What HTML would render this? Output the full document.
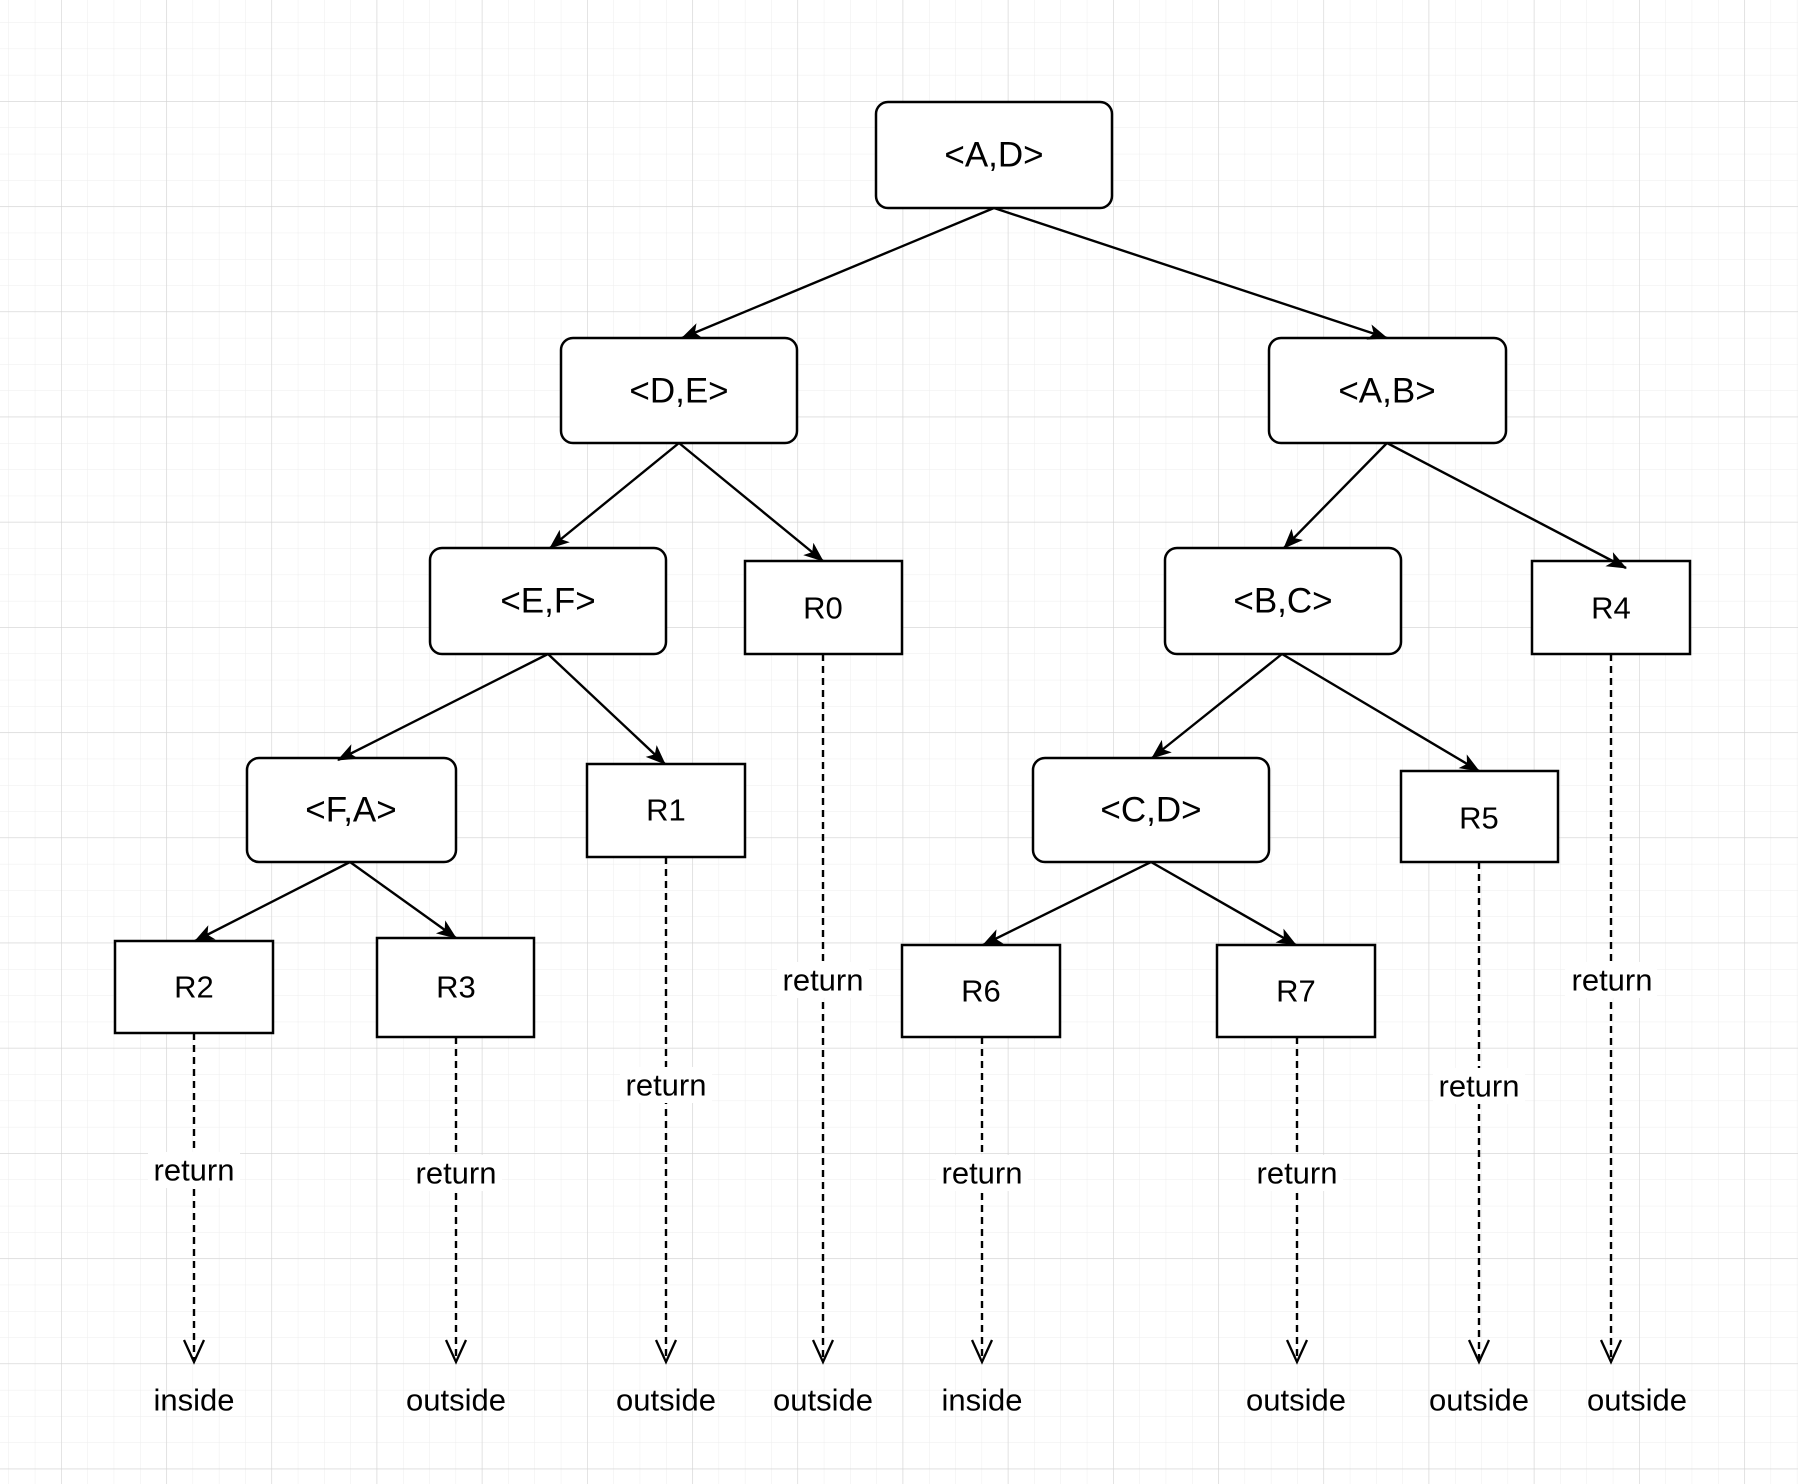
<!DOCTYPE html>
<html><head><meta charset="utf-8"><style>
html,body{margin:0;padding:0;background:#fff;}
svg{display:block;}
text{font-family:"Liberation Sans",Arial,sans-serif;fill:#000;}
</style></head><body>
<svg width="1798" height="1484" viewBox="0 0 1798 1484" xmlns="http://www.w3.org/2000/svg">
<defs>
<pattern id="minor" x="8.5" y="-4" width="26.3" height="26.3" patternUnits="userSpaceOnUse">
<path d="M0 0V26.3M0 0H26.3" stroke="#ededed" stroke-width="1" fill="none"/>
</pattern>
<pattern id="major" x="61" y="101" width="105.2" height="105.2" patternUnits="userSpaceOnUse">
<path d="M0 0V105.2M0 0H105.2" stroke="#d4d4d4" stroke-width="1.2" fill="none"/>
</pattern>
<marker id="fa" markerWidth="22" markerHeight="20" refX="19" refY="10" orient="auto" markerUnits="userSpaceOnUse">
<path d="M0 2 L20 10 L0 18 L5 10 Z" fill="#000"/>
</marker>
<marker id="oa" markerWidth="26" markerHeight="26" refX="22" refY="13" orient="auto" markerUnits="userSpaceOnUse">
<path d="M1 3 L23 13 L1 23" fill="none" stroke="#000" stroke-width="2.3"/>
</marker>
</defs>
<rect width="1798" height="1484" fill="#fff"/>
<rect width="1798" height="1484" fill="url(#minor)"/>
<rect width="1798" height="1484" fill="url(#major)"/>

<g fill="#fff" stroke="#000" stroke-width="2.5">
<rect x="876" y="102" width="236" height="106" rx="12"/>
<rect x="561" y="338" width="236" height="105" rx="12"/>
<rect x="1269" y="338" width="237" height="105" rx="12"/>
<rect x="430" y="548" width="236" height="106" rx="12"/>
<rect x="1165" y="548" width="236" height="106" rx="12"/>
<rect x="247" y="758" width="209" height="104" rx="12"/>
<rect x="1033" y="758" width="236" height="104" rx="12"/>
<rect x="745" y="561" width="157" height="93"/>
<rect x="1532" y="561" width="158" height="93"/>
<rect x="587" y="764" width="158" height="93"/>
<rect x="1401" y="771" width="157" height="91"/>
<rect x="115" y="941" width="158" height="92"/>
<rect x="377" y="938" width="157" height="99"/>
<rect x="902" y="945" width="158" height="92"/>
<rect x="1217" y="945" width="158" height="92"/>
</g>

<g stroke="#000" stroke-width="2.4" marker-end="url(#fa)">
<line x1="994" y1="208" x2="682" y2="338"/>
<line x1="994" y1="208" x2="1387" y2="338"/>
<line x1="679" y1="443" x2="550" y2="548"/>
<line x1="679" y1="443" x2="823" y2="561"/>
<line x1="1387" y1="443" x2="1284" y2="548"/>
<line x1="1387" y1="443" x2="1626" y2="568"/>
<line x1="548" y1="654" x2="338" y2="760"/>
<line x1="548" y1="654" x2="665" y2="764"/>
<line x1="1282" y1="654" x2="1152" y2="758"/>
<line x1="1282" y1="654" x2="1479" y2="771"/>
<line x1="350" y1="862" x2="195" y2="941"/>
<line x1="350" y1="862" x2="456" y2="938"/>
<line x1="1151" y1="862" x2="983" y2="945"/>
<line x1="1151" y1="862" x2="1296" y2="945"/>
</g>

<g stroke="#000" stroke-width="2.4" stroke-dasharray="7,5" marker-end="url(#oa)">
<line x1="194" y1="1033" x2="194" y2="1361"/>
<line x1="456" y1="1037" x2="456" y2="1361"/>
<line x1="666" y1="857" x2="666" y2="1361"/>
<line x1="823" y1="654" x2="823" y2="1361"/>
<line x1="982" y1="1037" x2="982" y2="1361"/>
<line x1="1297" y1="1037" x2="1297" y2="1361"/>
<line x1="1479" y1="862" x2="1479" y2="1361"/>
<line x1="1611" y1="654" x2="1611" y2="1361"/>
</g>

<g font-size="35" text-anchor="middle" dominant-baseline="central">
<text x="994" y="155">&lt;A,D&gt;</text>
<text x="679" y="391">&lt;D,E&gt;</text>
<text x="1387" y="391">&lt;A,B&gt;</text>
<text x="548" y="601">&lt;E,F&gt;</text>
<text x="1283" y="601">&lt;B,C&gt;</text>
<text x="351" y="810">&lt;F,A&gt;</text>
<text x="1151" y="810">&lt;C,D&gt;</text>
</g>
<g font-size="31" text-anchor="middle" dominant-baseline="central">
<text x="823" y="608">R0</text>
<text x="1611" y="608">R4</text>
<text x="666" y="810">R1</text>
<text x="1479" y="818">R5</text>
<text x="194" y="987">R2</text>
<text x="456" y="987">R3</text>
<text x="981" y="991">R6</text>
<text x="1296" y="991">R7</text>
</g>
<g font-size="31" text-anchor="middle" dominant-baseline="central">
<rect x="148" y="1152" width="92" height="36" fill="#fff"/>
<text x="194" y="1170">return</text>
<rect x="410" y="1155" width="92" height="36" fill="#fff"/>
<text x="456" y="1173">return</text>
<rect x="620" y="1067" width="92" height="36" fill="#fff"/>
<text x="666" y="1085">return</text>
<rect x="777" y="962" width="92" height="36" fill="#fff"/>
<text x="823" y="980">return</text>
<rect x="936" y="1155" width="92" height="36" fill="#fff"/>
<text x="982" y="1173">return</text>
<rect x="1251" y="1155" width="92" height="36" fill="#fff"/>
<text x="1297" y="1173">return</text>
<rect x="1433" y="1068" width="92" height="36" fill="#fff"/>
<text x="1479" y="1086">return</text>
<rect x="1565" y="962" width="92" height="36" fill="#fff"/>
<text x="1612" y="980">return</text>

<text x="194" y="1400">inside</text>
<text x="456" y="1400">outside</text>
<text x="666" y="1400">outside</text>
<text x="823" y="1400">outside</text>
<text x="982" y="1400">inside</text>
<text x="1296" y="1400">outside</text>
<text x="1479" y="1400">outside</text>
<text x="1637" y="1400">outside</text>
</g>
</svg>
</body></html>
